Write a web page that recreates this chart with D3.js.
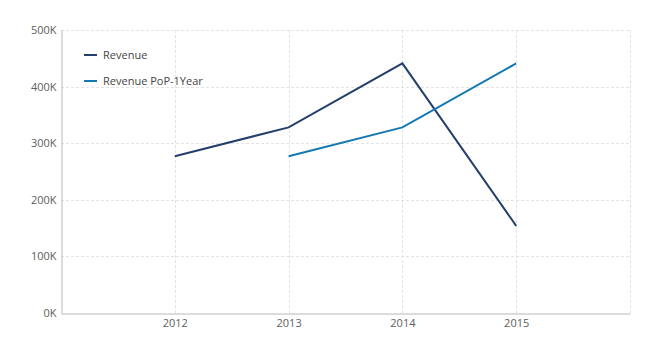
<!DOCTYPE html>
<html><head><meta charset="utf-8">
<script src="https://cdn.jsdelivr.net/npm/d3@7"></script>
<style>body{margin:0;background:#fff}svg{display:block;font-family:"Segoe UI","Open Sans",sans-serif}</style>
</head><body><svg id="c" width="658" height="352"></svg>
<script>
const years = [2012, 2013, 2014, 2015];
const revenue = [277000, 328000, 441000, 154000];
const revenuePoP = [null, 277000, 328000, 441000];
const yTicks = [0, 100000, 200000, 300000, 400000, 500000];
const seriesNames = ["Revenue", "Revenue PoP-1Year"];
const colors = ["#233f6b", "#1478b2"];

const svg = d3.select("#c");
const x = d3.scaleLinear().domain([2011, 2016]).range([61, 630]);
const y = d3.scaleLinear().domain([0, 500000]).range([313, 30]);

// grid
svg.append("g").selectAll("line").data(yTicks.slice(1)).join("line")
  .attr("x1", 61).attr("x2", 630).attr("y1", d => Math.round(y(d)) + 0.5).attr("y2", d => Math.round(y(d)) + 0.5)
  .attr("stroke", "#e3e3e3").attr("stroke-dasharray", "3,2");
svg.append("g").selectAll("line").data([2012, 2013, 2014, 2015, 2016]).join("line")
  .attr("x1", d => Math.round(x(d)) + 0.5).attr("x2", d => Math.round(x(d)) + 0.5).attr("y1", 30).attr("y2", 313)
  .attr("stroke", "#e3e3e3").attr("stroke-dasharray", "3,2");

// axes
const yAxis = svg.append("g").attr("transform", "translate(61.5,0)")
  .call(d3.axisLeft(y).tickValues(yTicks).tickSize(0).tickPadding(5).tickFormat(d => (d / 1000) + "K"));
const xAxis = svg.append("g").attr("transform", "translate(0,313.5)")
  .call(d3.axisBottom(x).tickValues(years).tickSize(0).tickPadding(6).tickFormat(d3.format("d")));
[yAxis, xAxis].forEach(a => {
  a.select(".domain").attr("stroke", "#b8b8b8").attr("stroke-width", 1);
  a.selectAll("text").attr("fill", "#605e5c").style("font-size", "11px").style("font-family", '"Segoe UI","Open Sans",sans-serif');
});

// lines
const line = d3.line().defined(d => d[1] != null).x(d => x(d[0])).y(d => y(d[1]));
[revenue, revenuePoP].forEach((s, i) => {
  svg.append("path").datum(years.map((yr, j) => [yr, s[j]]))
    .attr("d", line).attr("fill", "none").attr("stroke", colors[i]).attr("stroke-width", 2);
});

// legend
const leg = svg.append("g");
seriesNames.forEach((n, i) => {
  const ly = 55 + i * 26;
  leg.append("line").attr("x1", 84).attr("x2", 97).attr("y1", ly).attr("y2", ly)
    .attr("stroke", colors[i]).attr("stroke-width", 2);
  leg.append("text").attr("x", 103).attr("y", ly).attr("dy", "0.35em")
    .attr("fill", "#444").style("font-size", "11px").text(n);
});
</script></body></html>
